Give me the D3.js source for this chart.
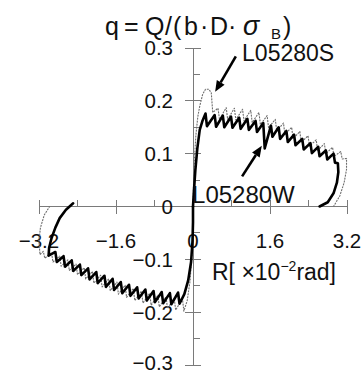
<!DOCTYPE html>
<html>
<head>
<meta charset="utf-8">
<script src="https://cdn.jsdelivr.net/npm/d3@7/dist/d3.min.js"></script>
<style>
  html, body { margin: 0; padding: 0; background: #fff; }
  svg { display: block; }
  text { font-family: "Liberation Sans", Arial, sans-serif; fill: #111; }
</style>
</head>
<body>
<svg id="chart" width="361" height="374"></svg>
<script>
// Tick values for the crossing axes
const xMajorTicks = [-3.2, -1.6, 1.6, 3.2];
const xMinorTicks = [-2.4, -0.8, 0.8, 2.4];
const xTickLabels = ["−3.2", "−1.6", "0", "1.6", "3.2"];
const xLabelValues = [-3.2, -1.6, 0, 1.6, 3.2];
const yMajorTicks = [-0.3, -0.2, -0.1, 0.1, 0.2, 0.3];
const yMinorTicks = [-0.25, -0.15, -0.05, 0.05, 0.15, 0.25];
const yTickLabels = ["−0.3", "−0.2", "−0.1", "0", "0.1", "0.2", "0.3"];
const yLabelValues = [-0.3, -0.2, -0.1, 0, 0.1, 0.2, 0.3];

// Specimen L05280W: [R (x10^-2 rad), q]
const wPositive = [
  [0,0],[0.02,0.03],[0.05,0.07],[0.09,0.11],[0.14,0.145],[0.20,0.163],[0.26,0.176],
  [0.29,0.152],[0.45,0.173],[0.48,0.151],[0.62,0.172],[0.65,0.150],[0.79,0.170],[0.82,0.149],
  [0.96,0.168],[0.99,0.147],[1.13,0.166],[1.16,0.145],[1.30,0.162],[1.33,0.141],[1.46,0.158],
  [1.49,0.110],[1.62,0.153],[1.65,0.132],[1.78,0.150],[1.81,0.128],[1.94,0.143],[1.97,0.122],
  [2.10,0.136],[2.13,0.116],[2.27,0.128],[2.30,0.108],[2.44,0.120],[2.47,0.101],[2.60,0.113],
  [2.63,0.095],[2.76,0.106],[2.79,0.089],[2.92,0.100],[2.95,0.083],[3.01,0.082],
  [3.02,0.065],[2.99,0.045],[2.92,0.025],[2.80,0.008],[2.63,0]
];
const wNegative = [
  [0,0],[0.0,-0.03],[-0.01,-0.065],[-0.04,-0.105],[-0.10,-0.140],[-0.18,-0.166],[-0.28,-0.184],
  [-0.31,-0.163],[-0.45,-0.185],[-0.48,-0.164],[-0.62,-0.183],[-0.65,-0.162],[-0.79,-0.181],[-0.82,-0.160],
  [-0.96,-0.178],[-0.99,-0.157],[-1.13,-0.174],[-1.16,-0.153],[-1.30,-0.169],[-1.33,-0.148],
  [-1.47,-0.164],[-1.50,-0.143],[-1.64,-0.158],[-1.67,-0.137],[-1.81,-0.152],[-1.84,-0.131],
  [-1.98,-0.145],[-2.01,-0.124],[-2.15,-0.138],[-2.18,-0.117],[-2.32,-0.130],[-2.35,-0.110],
  [-2.49,-0.122],[-2.52,-0.102],[-2.66,-0.114],[-2.69,-0.094],[-2.83,-0.105],[-2.86,-0.086],
  [-3.00,-0.093],
  [-2.99,-0.078],[-2.94,-0.06],[-2.86,-0.04],[-2.77,-0.022],[-2.64,-0.006],[-2.49,0.006]
];

// Specimen L05280S: [R (x10^-2 rad), q]
const sPositive = [
  [0,0],[0.01,0.04],[0.03,0.09],[0.06,0.135],[0.10,0.17],[0.14,0.19],[0.20,0.212],[0.26,0.222],
  [0.33,0.222],[0.38,0.215],[0.41,0.178],
  [0.52,0.186],[0.55,0.165],[0.69,0.187],[0.72,0.165],[0.86,0.186],[0.89,0.164],[1.03,0.184],
  [1.06,0.162],[1.20,0.182],[1.23,0.159],[1.37,0.178],[1.40,0.155],[1.54,0.172],[1.57,0.149],
  [1.71,0.165],[1.74,0.143],[1.88,0.158],[1.91,0.136],[2.05,0.150],[2.08,0.128],[2.22,0.142],
  [2.25,0.121],[2.39,0.134],[2.42,0.114],[2.56,0.126],[2.59,0.106],[2.73,0.119],[2.76,0.100],
  [2.90,0.112],[2.93,0.095],[3.07,0.104],[3.10,0.090],[3.19,0.091],
  [3.19,0.07],[3.14,0.045],[3.05,0.02],[2.92,0]
];
const sNegative = [
  [0,0],[0.0,-0.04],[-0.02,-0.09],[-0.06,-0.14],[-0.12,-0.178],[-0.19,-0.198],[-0.22,-0.174],
  [-0.36,-0.196],[-0.39,-0.174],[-0.53,-0.193],[-0.56,-0.171],[-0.70,-0.190],[-0.73,-0.168],
  [-0.87,-0.187],[-0.90,-0.164],[-1.04,-0.183],[-1.07,-0.160],[-1.21,-0.178],[-1.24,-0.155],
  [-1.38,-0.172],[-1.41,-0.149],[-1.55,-0.166],[-1.58,-0.143],[-1.72,-0.159],[-1.75,-0.137],
  [-1.89,-0.152],[-1.92,-0.130],[-2.06,-0.145],[-2.09,-0.123],[-2.23,-0.137],[-2.26,-0.116],
  [-2.40,-0.129],[-2.43,-0.109],[-2.57,-0.121],[-2.60,-0.101],[-2.74,-0.113],[-2.77,-0.094],
  [-2.91,-0.105],[-2.94,-0.087],[-3.08,-0.098],[-3.11,-0.085],[-3.18,-0.091],
  [-3.20,-0.065],[-3.17,-0.04],[-3.09,-0.016],[-2.98,0]
];

// Callouts: label anchor and arrow tail/tip in data units
const callouts = [
  { name: "L05280S", label: [1.02, 0.276], size: 23, tail: [0.89, 0.284], tip: [0.46, 0.217] },
  { name: "L05280W", label: [-0.02, 0.006], size: 24, tail: [1.02, 0.057], tip: [1.43, 0.115] }
];

const svg = d3.select("#chart");
const x = d3.scaleLinear().domain([-3.2, 3.2]).range([39, 347]);
const y = d3.scaleLinear().domain([-0.3, 0.3]).range([365, 48]);
const x0 = x(0), y0 = y(0);
const axisColor = "#7a7a7a";

// Axes crossing at the origin
const axes = svg.append("g").attr("stroke", axisColor).attr("stroke-width", 1).attr("shape-rendering", "crispEdges");
axes.append("line").attr("x1", x(-3.2)).attr("x2", x(3.2)).attr("y1", y0).attr("y2", y0);
axes.append("line").attr("x1", x0).attr("x2", x0).attr("y1", y(0.3)).attr("y2", y(-0.3));
axes.selectAll(".xmaj").data(xMajorTicks).join("line")
  .attr("x1", d => x(d)).attr("x2", d => x(d)).attr("y1", y0 - 7).attr("y2", y0 + 7);
axes.selectAll(".xmin").data(xMinorTicks).join("line")
  .attr("x1", d => x(d)).attr("x2", d => x(d)).attr("y1", y0 - 7).attr("y2", y0);
axes.selectAll(".ymaj").data(yMajorTicks).join("line")
  .attr("x1", x0 - 8).attr("x2", x0 + 8).attr("y1", d => y(d)).attr("y2", d => y(d));
axes.selectAll(".ymin").data(yMinorTicks).join("line")
  .attr("x1", x0).attr("x2", x0 + 7).attr("y1", d => y(d)).attr("y2", d => y(d));

// Tick labels
svg.append("g").selectAll("text").data(xLabelValues).join("text")
  .attr("x", d => x(d)).attr("y", 248).attr("text-anchor", "middle")
  .attr("font-size", 20.5).text((d, i) => xTickLabels[i]);
svg.append("g").selectAll("text").data(yLabelValues).join("text")
  .attr("x", 173).attr("y", d => Math.min(y(d) + 7.4, 370)).attr("text-anchor", "end")
  .attr("font-size", 20.5).text((d, i) => yTickLabels[i]);

// Loop curves
const line = d3.line().x(d => x(d[0])).y(d => y(d[1]));
const sGroup = svg.append("g").attr("fill", "none").attr("stroke", "#6e6e6e")
  .attr("stroke-width", 1.1).attr("stroke-dasharray", "2,1").attr("stroke-linejoin", "round");
[sPositive, sNegative].forEach(d => sGroup.append("path").attr("d", line(d)));
const wGroup = svg.append("g").attr("fill", "none").attr("stroke", "#000")
  .attr("stroke-width", 2.6).attr("stroke-linejoin", "round").attr("stroke-linecap", "round");
[wPositive, wNegative].forEach(d => wGroup.append("path").attr("d", line(d)));

// Callout arrows and labels
callouts.forEach(c => {
  const tx = x(c.tail[0]), ty = y(c.tail[1]);
  const px = x(c.tip[0]), py = y(c.tip[1]);
  const ang = Math.atan2(py - ty, px - tx);
  const len = 11, half = 4.5;
  const bx = px - len * Math.cos(ang), by = py - len * Math.sin(ang);
  svg.append("line").attr("x1", tx).attr("y1", ty).attr("x2", bx).attr("y2", by)
    .attr("stroke", "#000").attr("stroke-width", 2.6);
  svg.append("path").attr("fill", "#000").attr("d",
    `M${px},${py}L${bx + half * Math.sin(ang)},${by - half * Math.cos(ang)}` +
    `L${bx - half * Math.sin(ang)},${by + half * Math.cos(ang)}Z`);
  svg.append("text").attr("x", x(c.label[0])).attr("y", y(c.label[1]))
    .attr("font-size", c.size).text(c.name);
});

// Axis titles: q = Q/(b·D·σB), each piece placed on its own
const qTitle = svg.append("text").attr("y", 35).attr("font-size", 25);
qTitle.append("tspan").attr("x", 105).text("q");
qTitle.append("tspan").attr("x", 124).text("=");
qTitle.append("tspan").attr("x", 145).text("Q");
qTitle.append("tspan").attr("x", 165).text("/");
qTitle.append("tspan").attr("x", 173).text("(");
qTitle.append("tspan").attr("x", 184).text("b");
qTitle.append("tspan").attr("x", 200).text("·");
qTitle.append("tspan").attr("x", 210).text("D");
qTitle.append("tspan").attr("x", 228).text("·");
qTitle.append("tspan").attr("x", 243).attr("font-size", 27).attr("font-style", "italic").text("σ");
qTitle.append("tspan").attr("x", 271).attr("dy", 4).attr("font-size", 15).text("B");
qTitle.append("tspan").attr("x", 283).attr("dy", -4).text(")");

const rTitle = svg.append("text").attr("x", 212).attr("y", 280).attr("font-size", 23);
rTitle.append("tspan").text("R[ ×10");
rTitle.append("tspan").attr("dy", -9).attr("font-size", 14).text("−2");
rTitle.append("tspan").attr("dy", 9).text("rad]");
</script>
</body>
</html>
